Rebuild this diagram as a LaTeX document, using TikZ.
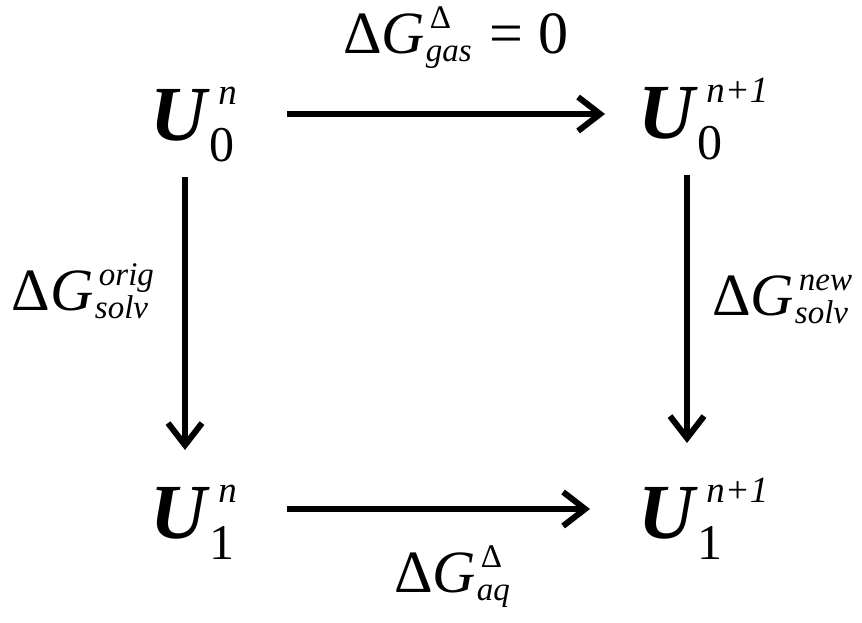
\documentclass[tikz,border=0pt]{standalone}
\usepackage{fontspec}
\setmainfont{Liberation Serif}
\usetikzlibrary{arrows.meta}
\newcommand\UFont{\fontsize{78}{78}\selectfont\bfseries\itshape}
\newcommand\USup{\fontsize{37}{37}\selectfont\mdseries\itshape}
\newcommand\USub{\fontsize{50}{50}\selectfont\mdseries\upshape}
\newcommand\Usym[2]{{\UFont U}\raisebox{36pt}{\rlap{\kern12pt\USup #2}}\kern3pt\raisebox{-21pt}{\USub #1}}
\newcommand\LFont{\fontsize{60}{60}\selectfont\upshape}
\newcommand\LScr{\fontsize{33}{33}\selectfont\itshape}
\newcommand\Dsym[2]{{\LFont Δ\textit{G}}\kern1pt\raisebox{25pt}{\rlap{\kern4pt\LScr #2}}\raisebox{-8pt}{\LScr #1}}
\tikzset{
  arr/.style={line width=6pt, -{Straight Barb[length=22pt,width=34pt]}},
  sym/.style={anchor=base west, inner sep=0pt, outer sep=0pt}
}
\begin{document}
\begin{tikzpicture}[x=1pt,y=-1pt]
\useasboundingbox (0,0) rectangle (862,622);
\node[sym] (u0n) at (150,140) {\Usym{0}{n}};
\node[sym] (u0m) at (638,138) {\Usym{0}{n+1}};
\node[sym] (u1n) at (150,538) {\Usym{1}{n}};
\node[sym] (u1m) at (638,538) {\Usym{1}{n+1}};
\node[sym] (lgas) at (343,53) {\Dsym{gas}{\upshape Δ}\kern18pt{\LFont = 0}};
\node[sym] (lorig) at (12,310) {\Dsym{solv}{orig}};
\node[sym] (lnew) at (712,315) {\Dsym{solv}{new}};
\node[sym] (laq) at (394,592) {\Dsym{aq}{\upshape Δ}};
\coordinate (a1) at (287,114); \coordinate (a2) at (605,114);
\coordinate (b1) at (287,509); \coordinate (b2) at (590,509);
\coordinate (c1) at (185,177); \coordinate (c2) at (185,450);
\coordinate (d1) at (687,175); \coordinate (d2) at (687,443);
\draw[arr] (a1) -- (a2);
\draw[arr] (b1) -- (b2);
\draw[arr] (c1) -- (c2);
\draw[arr] (d1) -- (d2);
\end{tikzpicture}
\end{document}
